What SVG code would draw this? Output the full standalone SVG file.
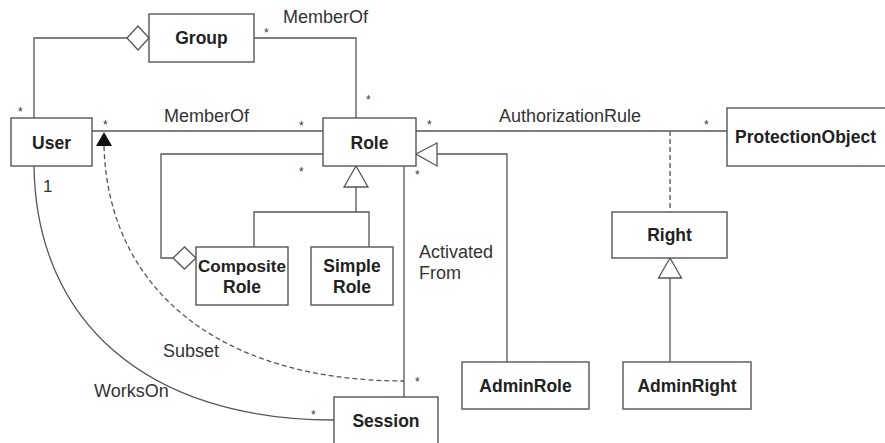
<svg xmlns="http://www.w3.org/2000/svg" width="885" height="443" viewBox="0 0 885 443">
<style>
.box{fill:#fff;stroke:#555;stroke-width:1.4}
.ln{fill:none;stroke:#555;stroke-width:1.3}
.dash{fill:none;stroke:#555;stroke-width:1.3;stroke-dasharray:5,3}
.hollow{fill:#fff;stroke:#555;stroke-width:1.3}
.nm{font-family:"Liberation Sans",Arial,sans-serif;font-weight:bold;font-size:17.5px;fill:#222;text-anchor:middle}
.lb{font-family:"Liberation Sans",Arial,sans-serif;font-size:18px;fill:#333}
.st{font-family:"Liberation Sans",Arial,sans-serif;font-size:12px;fill:#333}
</style>
<rect width="885" height="443" fill="#fff"/>
<g id="connectors">
  <polyline class="ln" points="34,118 34,38 127,38"/>
  <polygon class="hollow" points="127,38 138,26 149,38 138,50"/>
  <polyline class="ln" points="254,38 356,38 356,118"/>
  <line class="ln" x1="92" y1="131" x2="323" y2="131"/>
  <polyline class="ln" points="323,154 161,154 161,258 173,258"/>
  <polygon class="hollow" points="173,258 184.5,247 196,258 184.5,269"/>
  <polyline class="ln" points="356,187 356,212"/>
  <polyline class="ln" points="254,247 254,212 369,212 369,247"/>
  <polygon class="hollow" points="356,166 368,187 344,187"/>
  <polyline class="ln" points="507,362 507,154 437,154"/>
  <polygon class="hollow" points="416,154 437,143 437,166"/>
  <line class="ln" x1="416" y1="131" x2="727" y2="131"/>
  <line class="dash" x1="670" y1="131" x2="670" y2="212"/>
  <line class="ln" x1="670" y1="278" x2="670" y2="362"/>
  <polygon class="hollow" points="670,258 681.5,278 658.5,278"/>
  <line class="ln" x1="404" y1="166" x2="404" y2="397"/>
  <path class="dash" d="M104,146 C108,290 220,381 404,381"/>
  <polygon points="104,132 112,146 96,146" fill="#111"/>
  <path class="ln" d="M34,166 C36,320 145,420 334,420"/>
</g>
<g id="labels">
  <text class="lb" x="283" y="23">MemberOf</text>
  <text class="lb" x="164" y="122">MemberOf</text>
  <text class="lb" x="499" y="122">AuthorizationRule</text>
  <text class="lb" x="419" y="258">Activated</text>
  <text class="lb" x="419" y="279">From</text>
  <text class="lb" x="163" y="357">Subset</text>
  <text class="lb" x="94" y="397">WorksOn</text>
  <text class="lb" x="43" y="192" style="font-size:17px">1</text>
  <text class="st" x="264" y="37">*</text>
  <text class="st" x="366" y="104">*</text>
  <text class="st" x="18" y="116">*</text>
  <text class="st" x="103" y="129">*</text>
  <text class="st" x="299" y="130">*</text>
  <text class="st" x="299" y="176">*</text>
  <text class="st" x="427" y="129">*</text>
  <text class="st" x="704" y="129">*</text>
  <text class="st" x="415" y="179">*</text>
  <text class="st" x="415" y="386">*</text>
  <text class="st" x="311" y="419">*</text>
</g>
<g id="node-group"><rect class="box" x="149" y="14" width="105" height="48"/><text class="nm" x="201.5" y="44">Group</text></g>
<g id="node-user"><rect class="box" x="11" y="118" width="81" height="48"/><text class="nm" x="51.5" y="149">User</text></g>
<g id="node-role"><rect class="box" x="323" y="118" width="93" height="48"/><text class="nm" x="369.5" y="149">Role</text></g>
<g id="node-protectionobject"><rect class="box" x="727" y="108" width="170" height="58"/><text class="nm" x="735" y="143" style="text-anchor:start">ProtectionObject</text></g>
<g id="node-compositerole"><rect class="box" x="196" y="247" width="92" height="58"/><text class="nm" x="242" y="272" style="font-size:17px">Composite</text><text class="nm" x="242" y="293">Role</text></g>
<g id="node-simplerole"><rect class="box" x="311" y="247" width="82" height="58"/><text class="nm" x="352" y="272">Simple</text><text class="nm" x="352" y="293">Role</text></g>
<g id="node-right"><rect class="box" x="612" y="212" width="115" height="46"/><text class="nm" x="669.5" y="241">Right</text></g>
<g id="node-adminrole"><rect class="box" x="462" y="362" width="127" height="47"/><text class="nm" x="525.5" y="392">AdminRole</text></g>
<g id="node-adminright"><rect class="box" x="623" y="362" width="128" height="47"/><text class="nm" x="687" y="392">AdminRight</text></g>
<g id="node-session"><rect class="box" x="334" y="397" width="104" height="52"/><text class="nm" x="386" y="427">Session</text></g>
</svg>
